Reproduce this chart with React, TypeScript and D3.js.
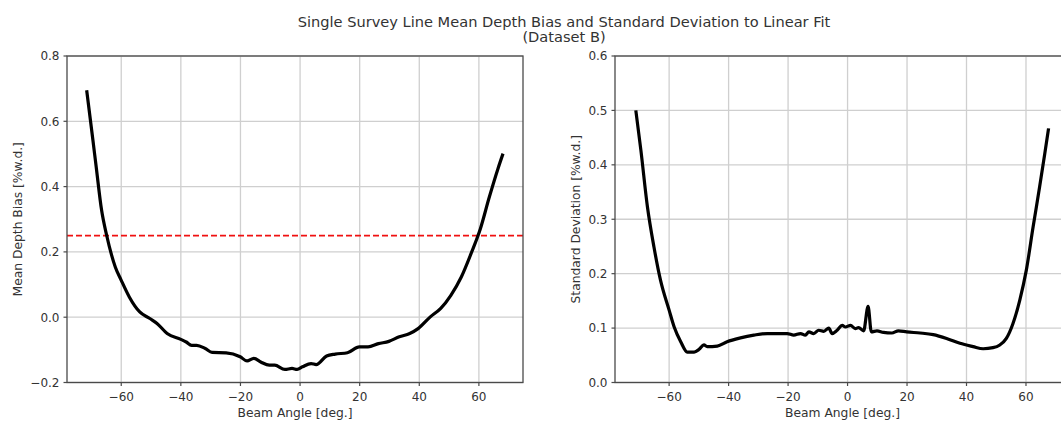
import React from 'react'
import * as d3 from 'd3'

// mean depth bias (left panel)
const biasAngle = [-71.6, -69.5, -68.4, -66.6, -64.9, -62, -60, -57.3, -53.8, -50.4, -48, -44.6, -40, -38.2, -36.4, -34.7, -31.8, -29.5, -24.8, -20.1, -17.8, -15.5, -13.2, -10.3, -8.5, -5.1, -2.7, -1, 0.8, 3.7, 5.4, 8.9, 11.8, 15.9, 19.9, 22.8, 26.3, 29.8, 33.3, 36.8, 39.6, 43.7, 47.2, 50.6, 54.1, 57.6, 60.5, 63.5, 66.4, 68.1]
const biasValue = [0.695, 0.542, 0.46, 0.328, 0.251, 0.154, 0.113, 0.062, 0.016, -0.004, -0.019, -0.05, -0.068, -0.076, -0.086, -0.086, -0.096, -0.108, -0.109, -0.121, -0.134, -0.126, -0.137, -0.147, -0.147, -0.16, -0.157, -0.16, -0.152, -0.142, -0.145, -0.119, -0.113, -0.109, -0.091, -0.091, -0.081, -0.074, -0.06, -0.05, -0.035, 0.001, 0.027, 0.067, 0.123, 0.2, 0.271, 0.368, 0.455, 0.501]
const biasThreshold = 0.25

// standard deviation (right panel)
const stdAngle = [-71.2, -69.5, -67.3, -65.1, -62.9, -60, -58.3, -56.1, -53.9, -51.6, -49.9, -48.3, -47.2, -43.8, -40.5, -36, -31.5, -27, -22.6, -20.3, -18.1, -15.8, -14.2, -13, -11.4, -9.7, -8, -6.3, -5.2, -3.5, -1.8, -0.7, 1, 2.6, 3.7, 5.4, 6.9, 8, 9.9, 12.1, 14.9, 17.1, 19.9, 24.4, 28.8, 33.3, 37.8, 42.2, 45.6, 48.9, 51.2, 53.4, 55.6, 57.9, 60.1, 62.4, 64.6, 66.3, 67.6]
const stdValue = [0.5, 0.427, 0.323, 0.249, 0.188, 0.133, 0.102, 0.075, 0.056, 0.056, 0.061, 0.069, 0.066, 0.067, 0.075, 0.082, 0.087, 0.09, 0.09, 0.09, 0.087, 0.09, 0.087, 0.093, 0.09, 0.096, 0.094, 0.1, 0.09, 0.096, 0.105, 0.102, 0.105, 0.099, 0.101, 0.095, 0.14, 0.093, 0.095, 0.092, 0.091, 0.095, 0.093, 0.091, 0.088, 0.081, 0.072, 0.066, 0.062, 0.064, 0.069, 0.081, 0.108, 0.151, 0.206, 0.286, 0.36, 0.42, 0.467]

const xTicks = [-60, -40, -20, 0, 20, 40, 60]
const biasTicks = [-0.2, 0.0, 0.2, 0.4, 0.6, 0.8]
const stdTicks = [0.0, 0.1, 0.2, 0.3, 0.4, 0.5, 0.6]

const title = 'Single Survey Line Mean Depth Bias and Standard Deviation to Linear Fit'
const subtitle = '(Dataset B)'

const font = 'DejaVu Sans, sans-serif'
const textColor = '#333'
const spineColor = '#4a4a4a'
const fmt = (v: number, digits: number) => v.toFixed(digits).replace('-', '\u2212')

type PanelProps = {
    left: number
    right: number
    top: number
    bottom: number
    angles: number[]
    values: number[]
    yDomain: [number, number]
    yTicks: number[]
    yLabel: string
    labelOffset: number
    hline?: number
}

function Panel({ left, right, top, bottom, angles, values, yDomain, yTicks, yLabel, labelOffset, hline }: PanelProps) {
    const x = d3.scaleLinear().domain([-78.2, 74.8]).range([left, right])
    const y = d3.scaleLinear().domain(yDomain).range([bottom, top])
    const pts = angles.map((a, i) => [a, values[i]] as [number, number])
    const line = d3.line<[number, number]>()
        .x(d => x(d[0]))
        .y(d => y(d[1]))
        .curve(d3.curveMonotoneX)

    return (
        <g>
            {/* grid */}
            {xTicks.map(t => (
                <line key={'gx' + t} x1={x(t)} x2={x(t)} y1={top} y2={bottom} stroke="#cfcfcf" strokeWidth={1.3} />
            ))}
            {yTicks.map(t => (
                <line key={'gy' + t} x1={left} x2={right} y1={y(t)} y2={y(t)} stroke="#cfcfcf" strokeWidth={1.3} />
            ))}
            {hline !== undefined && (
                <line x1={left} x2={right} y1={y(hline)} y2={y(hline)} stroke="#f01010" strokeWidth={1.8} strokeDasharray="6,3" />
            )}
            <path d={line(pts) || ''} fill="none" stroke="#000" strokeWidth={3.2} strokeLinejoin="round" strokeLinecap="butt" />
            {/* spines */}
            <rect x={left} y={top} width={right - left} height={bottom - top} fill="none" stroke={spineColor} strokeWidth={1.3} />
            {/* x ticks */}
            {xTicks.map(t => (
                <g key={'tx' + t}>
                    <line x1={x(t)} x2={x(t)} y1={bottom} y2={bottom + 3.5} stroke={spineColor} strokeWidth={1.2} />
                    <text x={x(t)} y={bottom + 18.5} textAnchor="middle" fontSize={12} fill={textColor} fontFamily={font}>{fmt(t, 0)}</text>
                </g>
            ))}
            {/* y ticks */}
            {yTicks.map(t => (
                <g key={'ty' + t}>
                    <line x1={left - 3.5} x2={left} y1={y(t)} y2={y(t)} stroke={spineColor} strokeWidth={1.2} />
                    <text x={left - 7.5} y={y(t) + 4.3} textAnchor="end" fontSize={12} fill={textColor} fontFamily={font}>{fmt(t, 1)}</text>
                </g>
            ))}
            <text x={(left + right) / 2} y={bottom + 34.5} textAnchor="middle" fontSize={12.3} fill={textColor} fontFamily={font}>Beam Angle [deg.]</text>
            <text transform={`translate(${left - labelOffset},${(top + bottom) / 2}) rotate(-90)`} textAnchor="middle" fontSize={12.3} fill={textColor} fontFamily={font}>{yLabel}</text>
        </g>
    )
}

export default function App() {
    const width = 1061
    const height = 423
    return (
        <div style={{ position: 'absolute', left: 0, top: 0 }}>
            <svg width={width} height={height} style={{ display: 'block', background: '#fff' }}>
                <text x={564} y={26.5} textAnchor="middle" fontSize={14.6} fill={textColor} fontFamily={font}>{title}</text>
                <text x={564} y={42} textAnchor="middle" fontSize={14.6} fill={textColor} fontFamily={font}>{subtitle}</text>
                <Panel left={67} right={523} top={56} bottom={382.5} angles={biasAngle} values={biasValue}
                    yDomain={[-0.2, 0.8]} yTicks={biasTicks} yLabel="Mean Depth Bias [%w.d.]" labelOffset={45.5} hline={biasThreshold} />
                <Panel left={615} right={1070} top={56} bottom={382.5} angles={stdAngle} values={stdValue}
                    yDomain={[0, 0.6]} yTicks={stdTicks} yLabel="Standard Deviation [%w.d.]" labelOffset={35.5} />
            </svg>
        </div>
    )
}
